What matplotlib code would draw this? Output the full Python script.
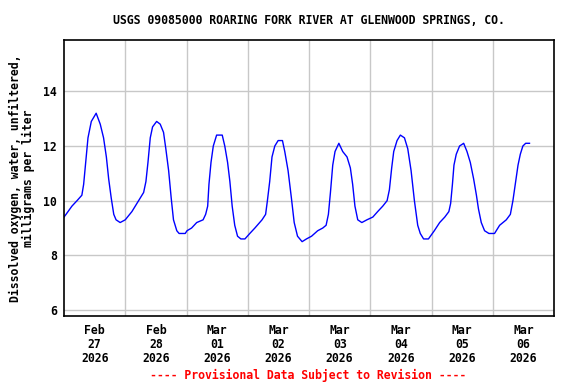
import numpy as np
import pandas as pd
import matplotlib
matplotlib.use("Agg")
import matplotlib.pyplot as plt
import matplotlib.dates as mdates

# Dissolved oxygen (mg/L); hours since 2026-02-27 00:00
hours = [0.0, 0.8, 3.1, 5.1, 7.0, 7.7, 8.3, 9.4, 10.7, 12.6, 14.2, 15.5, 16.6, 17.5,
         18.5, 19.5, 20.4, 22.0, 24.0, 26.6, 29.2, 31.2, 32.1, 32.9, 33.8, 34.7, 36.3,
         37.7, 39.0, 39.9, 41.0, 42.0, 42.9, 44.2, 45.1, 47.5, 48.2, 50.0, 52.0, 54.5,
         55.5, 56.3, 56.8, 57.6, 58.5, 59.8, 62.0, 63.0, 64.1, 65.0, 65.9, 66.9, 68.0,
         69.3, 70.9, 72.8, 74.8, 77.6, 79.0, 79.7, 80.6, 81.5, 82.6, 83.9, 85.6, 86.5,
         87.8, 89.1, 90.2, 91.5, 93.3, 95.0, 97.0, 99.4, 101.4, 102.7, 103.6, 104.4,
         105.3, 106.2, 107.7, 109.2, 110.9, 112.2, 113.1, 114.0, 115.1, 116.7, 118.7,
         121.0, 122.9, 124.9, 126.6, 127.5, 128.4, 129.2, 130.5, 131.8, 133.4, 134.7,
         136.0, 137.3, 138.6, 139.6, 140.9, 142.8, 145.1, 147.2, 149.2, 150.8, 151.5,
         152.2, 152.8, 153.7, 155.0, 156.6, 157.9, 159.2, 160.5, 161.6, 162.4, 163.5,
         164.8, 166.5, 168.7, 170.7, 173.3, 174.9, 175.9, 177.0, 177.9, 178.8, 179.8,
         180.9, 182.4]
oxygen = [9.4, 9.5, 9.8, 10.0, 10.2, 10.6, 11.2, 12.3, 12.9, 13.2, 12.8, 12.3, 11.6, 10.8,
          10.1, 9.5, 9.3, 9.2, 9.3, 9.6, 10.0, 10.3, 10.7, 11.4, 12.3, 12.7, 12.9,
          12.8, 12.5, 11.9, 11.1, 10.1, 9.3, 8.9, 8.8, 8.8, 8.9, 9.0, 9.2, 9.3,
          9.5, 9.8, 10.6, 11.4, 12.0, 12.4, 12.4, 12.0, 11.4, 10.7, 9.8, 9.1, 8.7,
          8.6, 8.6, 8.8, 9.0, 9.3, 9.5, 10.0, 10.7, 11.6, 12.0, 12.2, 12.2, 11.8,
          11.1, 10.1, 9.2, 8.7, 8.5, 8.6, 8.7, 8.9, 9.0, 9.1, 9.5, 10.3,
          11.3, 11.8, 12.1, 11.8, 11.6, 11.2, 10.6, 9.8, 9.3, 9.2, 9.3,
          9.4, 9.6, 9.8, 10.0, 10.4, 11.2, 11.8, 12.2, 12.4, 12.3, 11.9,
          11.1, 10.0, 9.1, 8.8, 8.6, 8.6, 8.9, 9.2, 9.4, 9.6, 9.9,
          10.6, 11.3, 11.7, 12.0, 12.1, 11.8, 11.4, 10.8, 10.2, 9.7, 9.2,
          8.9, 8.8, 8.8, 9.1, 9.3, 9.5, 10.0, 10.7, 11.3, 11.7, 12.0,
          12.1, 12.1]

start = pd.Timestamp("2026-02-27")
times = start + pd.to_timedelta(hours, unit="h")
day_labels = ["Feb\n27\n2026", "Feb\n28\n2026", "Mar\n01\n2026", "Mar\n02\n2026",
              "Mar\n03\n2026", "Mar\n04\n2026", "Mar\n05\n2026", "Mar\n06\n2026"]
y_ticks = [6, 8, 10, 12, 14]

mono = "DejaVu Sans Mono"
fs = 8.3

fig = plt.figure(figsize=(5.76, 3.84), dpi=100)
ax = fig.add_axes([64 / 576, 1 - 316 / 384, 490 / 576, 276 / 384])

ax.plot(times, oxygen, color="#0000ff", linewidth=1.0)

ax.set_xlim(start, start + pd.Timedelta(days=8))
ax.set_ylim(5.78, 15.88)

midnights = pd.date_range(start, periods=9, freq="D")
noons = pd.date_range(start + pd.Timedelta(hours=12), periods=8, freq="D")
ax.set_xticks(mdates.date2num(midnights[1:-1]), minor=True)
ax.set_xticks(mdates.date2num(noons))
ax.set_xticklabels(day_labels, fontfamily=mono, fontweight="bold", fontsize=fs,
                   linespacing=1.1)
ax.set_yticks(y_ticks)
ax.set_yticklabels([str(v) for v in y_ticks], fontfamily=mono, fontweight="bold",
                   fontsize=fs)
ax.tick_params(axis="both", which="both", length=0)
ax.tick_params(axis="x", pad=6)
ax.tick_params(axis="y", pad=5)

ax.grid(True, which="minor", axis="x", color="#c8c8c8", linewidth=1.0)
ax.grid(True, which="major", axis="y", color="#c8c8c8", linewidth=1.0)
ax.set_axisbelow(True)
for s in ax.spines.values():
    s.set_linewidth(1.2)
    s.set_color("black")

ax.set_ylabel("Dissolved oxygen, water, unfiltered,\nmilligrams per liter",
              fontfamily=mono, fontweight="bold", fontsize=fs, linespacing=1.0,
              labelpad=6)

fig.text(309 / 576, 1 - 20 / 384,
         "USGS 09085000 ROARING FORK RIVER AT GLENWOOD SPRINGS, CO.",
         ha="center", va="center", fontfamily=mono, fontweight="bold", fontsize=fs)
fig.text(308 / 576, 1 - 375 / 384,
         "---- Provisional Data Subject to Revision ----",
         ha="center", va="center", fontfamily=mono, fontweight="bold", fontsize=fs,
         color="#ff0000")

fig.savefig("out.png", dpi=100)
